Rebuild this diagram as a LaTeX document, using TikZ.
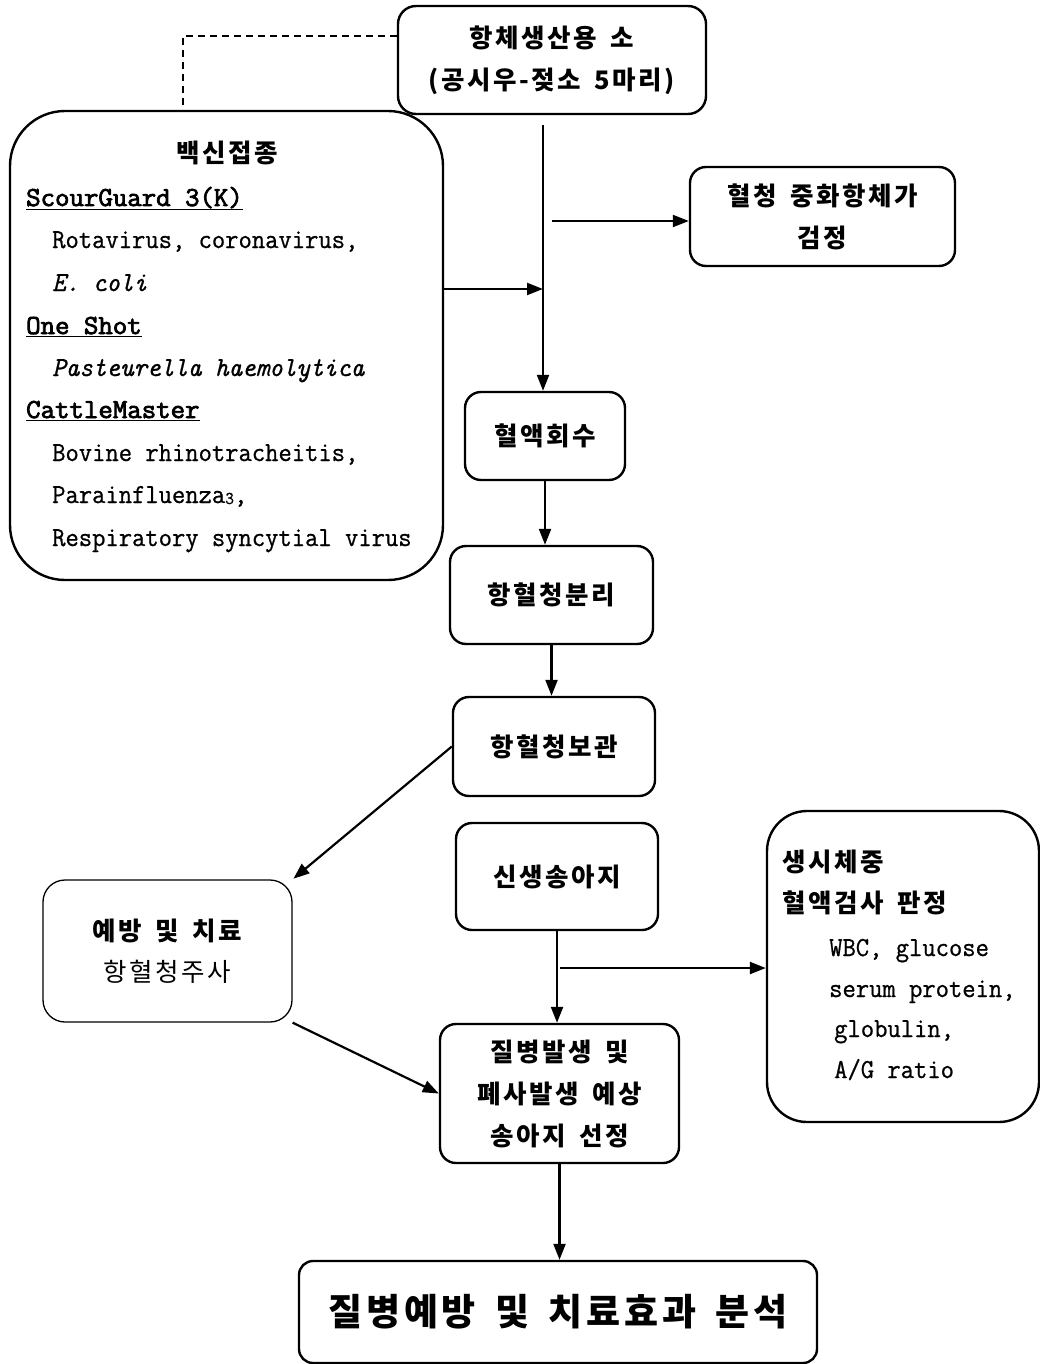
\documentclass[tikz,border=0pt]{standalone}
\usepackage{fontspec}
\newfontfamily\kr{Noto Sans CJK KR}[LetterSpace=10, WordSpace=1.6]
\newfontfamily\mono{Latin Modern Mono}[FakeStretch=0.94, FakeBold=0.8]
\newfontfamily\monob{Latin Modern Mono}[FakeStretch=1.02, FakeBold=2.8]
\usetikzlibrary{arrows.meta}
\begin{document}
\begin{tikzpicture}[x=1pt,y=-1pt,
  box/.style={draw, line width=2.4pt, rounded corners=16pt, inner sep=0pt, align=center,
    font=\kr\bfseries\fontsize{25.5}{42}\selectfont},
  ktxt/.style={inner sep=0pt, font=\kr\bfseries\fontsize{25.5}{42}\selectfont},
  etxt/.style={inner sep=0pt, anchor=base west, font=\mono\fontsize{27.5}{33}\selectfont},
  ebtxt/.style={inner sep=0pt, anchor=base west, font=\monob\fontsize{27.5}{33}\selectfont},
  arr/.style={line width=2.2pt, -{Triangle[length=16pt,width=12pt]}},
  dash line/.style={line width=1.6pt, dash pattern=on 7pt off 5pt}]
\useasboundingbox (0,0) rectangle (1040,1364);

% boxes
\node[box, minimum width=308pt, minimum height=108pt, rounded corners=18pt] (cow) at (552,60)
  {항체생산용 소\\(공시우-젖소 5마리)};
\node[draw, line width=2.4pt, rounded corners=55pt, minimum width=433pt, minimum height=469pt, inner sep=0pt] (vac) at (226.5,345.5) {};
\node[box, minimum width=265pt, minimum height=99pt] (serum) at (822.5,216.5) {혈청 중화항체가\\검정};
\node[box, minimum width=160pt, minimum height=88pt] (blood) at (545,436) {혈액회수};
\node[box, minimum width=203pt, minimum height=98pt] (sep) at (551.5,595) {항혈청분리};
\node[box, minimum width=202pt, minimum height=99pt] (store) at (554,746.5) {항혈청보관};
\node[box, line width=1.3pt, rounded corners=22pt, minimum width=249pt, minimum height=142pt,
  font=\kr\fontsize{25.5}{41}\selectfont] (prev) at (167.5,951) {{\bfseries 예방 및 치료}\\항혈청주사};
\node[box, minimum width=202pt, minimum height=107pt] (newborn) at (557,876.5) {신생송아지};
\node[draw, line width=2.4pt, rounded corners=40pt, minimum width=272pt, minimum height=311pt, inner sep=0pt] (exam) at (903,966.5) {};
\node[box, minimum width=239pt, minimum height=139pt] (dis) at (559.5,1093.5) {질병발생 및\\폐사발생 예상\\송아지 선정};
\node[box, minimum width=518pt, minimum height=102pt, rounded corners=14pt,
  font=\kr\bfseries\fontsize{37}{42}\selectfont] (final) at (558,1312) {질병예방 및 치료효과 분석};

% vaccine box text
\node[ktxt] (vt) at (227,153) {백신접종};
\node[ebtxt] (v1) at (26,206) {\underline{ScourGuard 3(K)}};
\node[etxt] (v2) at (52,248) {Rotavirus, coronavirus,};
\node[etxt] (v3) at (52,291) {\itshape E. coli};
\node[ebtxt] (v4) at (26,334) {\underline{One Shot}};
\node[etxt] (v5) at (52,376) {\itshape Pasteurella haemolytica};
\node[ebtxt] (v6) at (26,418) {\underline{CattleMaster}};
\node[etxt] (v7) at (52,461) {Bovine rhinotracheitis,};
\node[etxt] (v8) at (52,503) {Parainfluenza\raisebox{-1pt}{\fontsize{18}{18}\selectfont 3},};
\node[etxt] (v9) at (52,546) {Respiratory syncytial virus};

% exam box text
\node[ktxt, anchor=west] (x1) at (782,862) {생시체중};
\node[ktxt, anchor=west] (x2) at (782,903) {혈액검사 판정};
\node[etxt] (x3) at (829,956) {WBC, glucose};
\node[etxt] (x4) at (829,997) {serum protein,};
\node[etxt] (x5) at (834,1037) {globulin,};
\node[etxt] (x6) at (834,1078) {A/G ratio};

% connectors
\coordinate (d1) at (183,36);
\draw[dash line] (cow.west |- d1) -| (d1 |- vac.north);
\coordinate (m0) at (543,125);
\draw[arr] (m0) -- (m0 |- blood.north);
\coordinate (b1) at (552,221);
\draw[arr] (b1) -- (b1 -| serum.west);
\coordinate (vy) at (0,289);
\draw[arr] (vac.east |- vy) -- (m0 |- vy);
\draw[arr] (blood.south) -- (blood.south |- sep.north);
\draw[arr] (sep.south) -- (sep.south |- store.north);
\draw[arr, shorten >=1pt] (store.west) -- (prev.north east);
\draw[arr] (prev.south east) -- (dis.west);
\draw[arr] (newborn.south) -- (newborn.south |- dis.north);
\coordinate (b2) at (560,968);
\draw[arr] (b2) -- (b2 -| exam.west);
\draw[arr] (dis.south) -- (dis.south |- final.north);
\end{tikzpicture}
\end{document}
